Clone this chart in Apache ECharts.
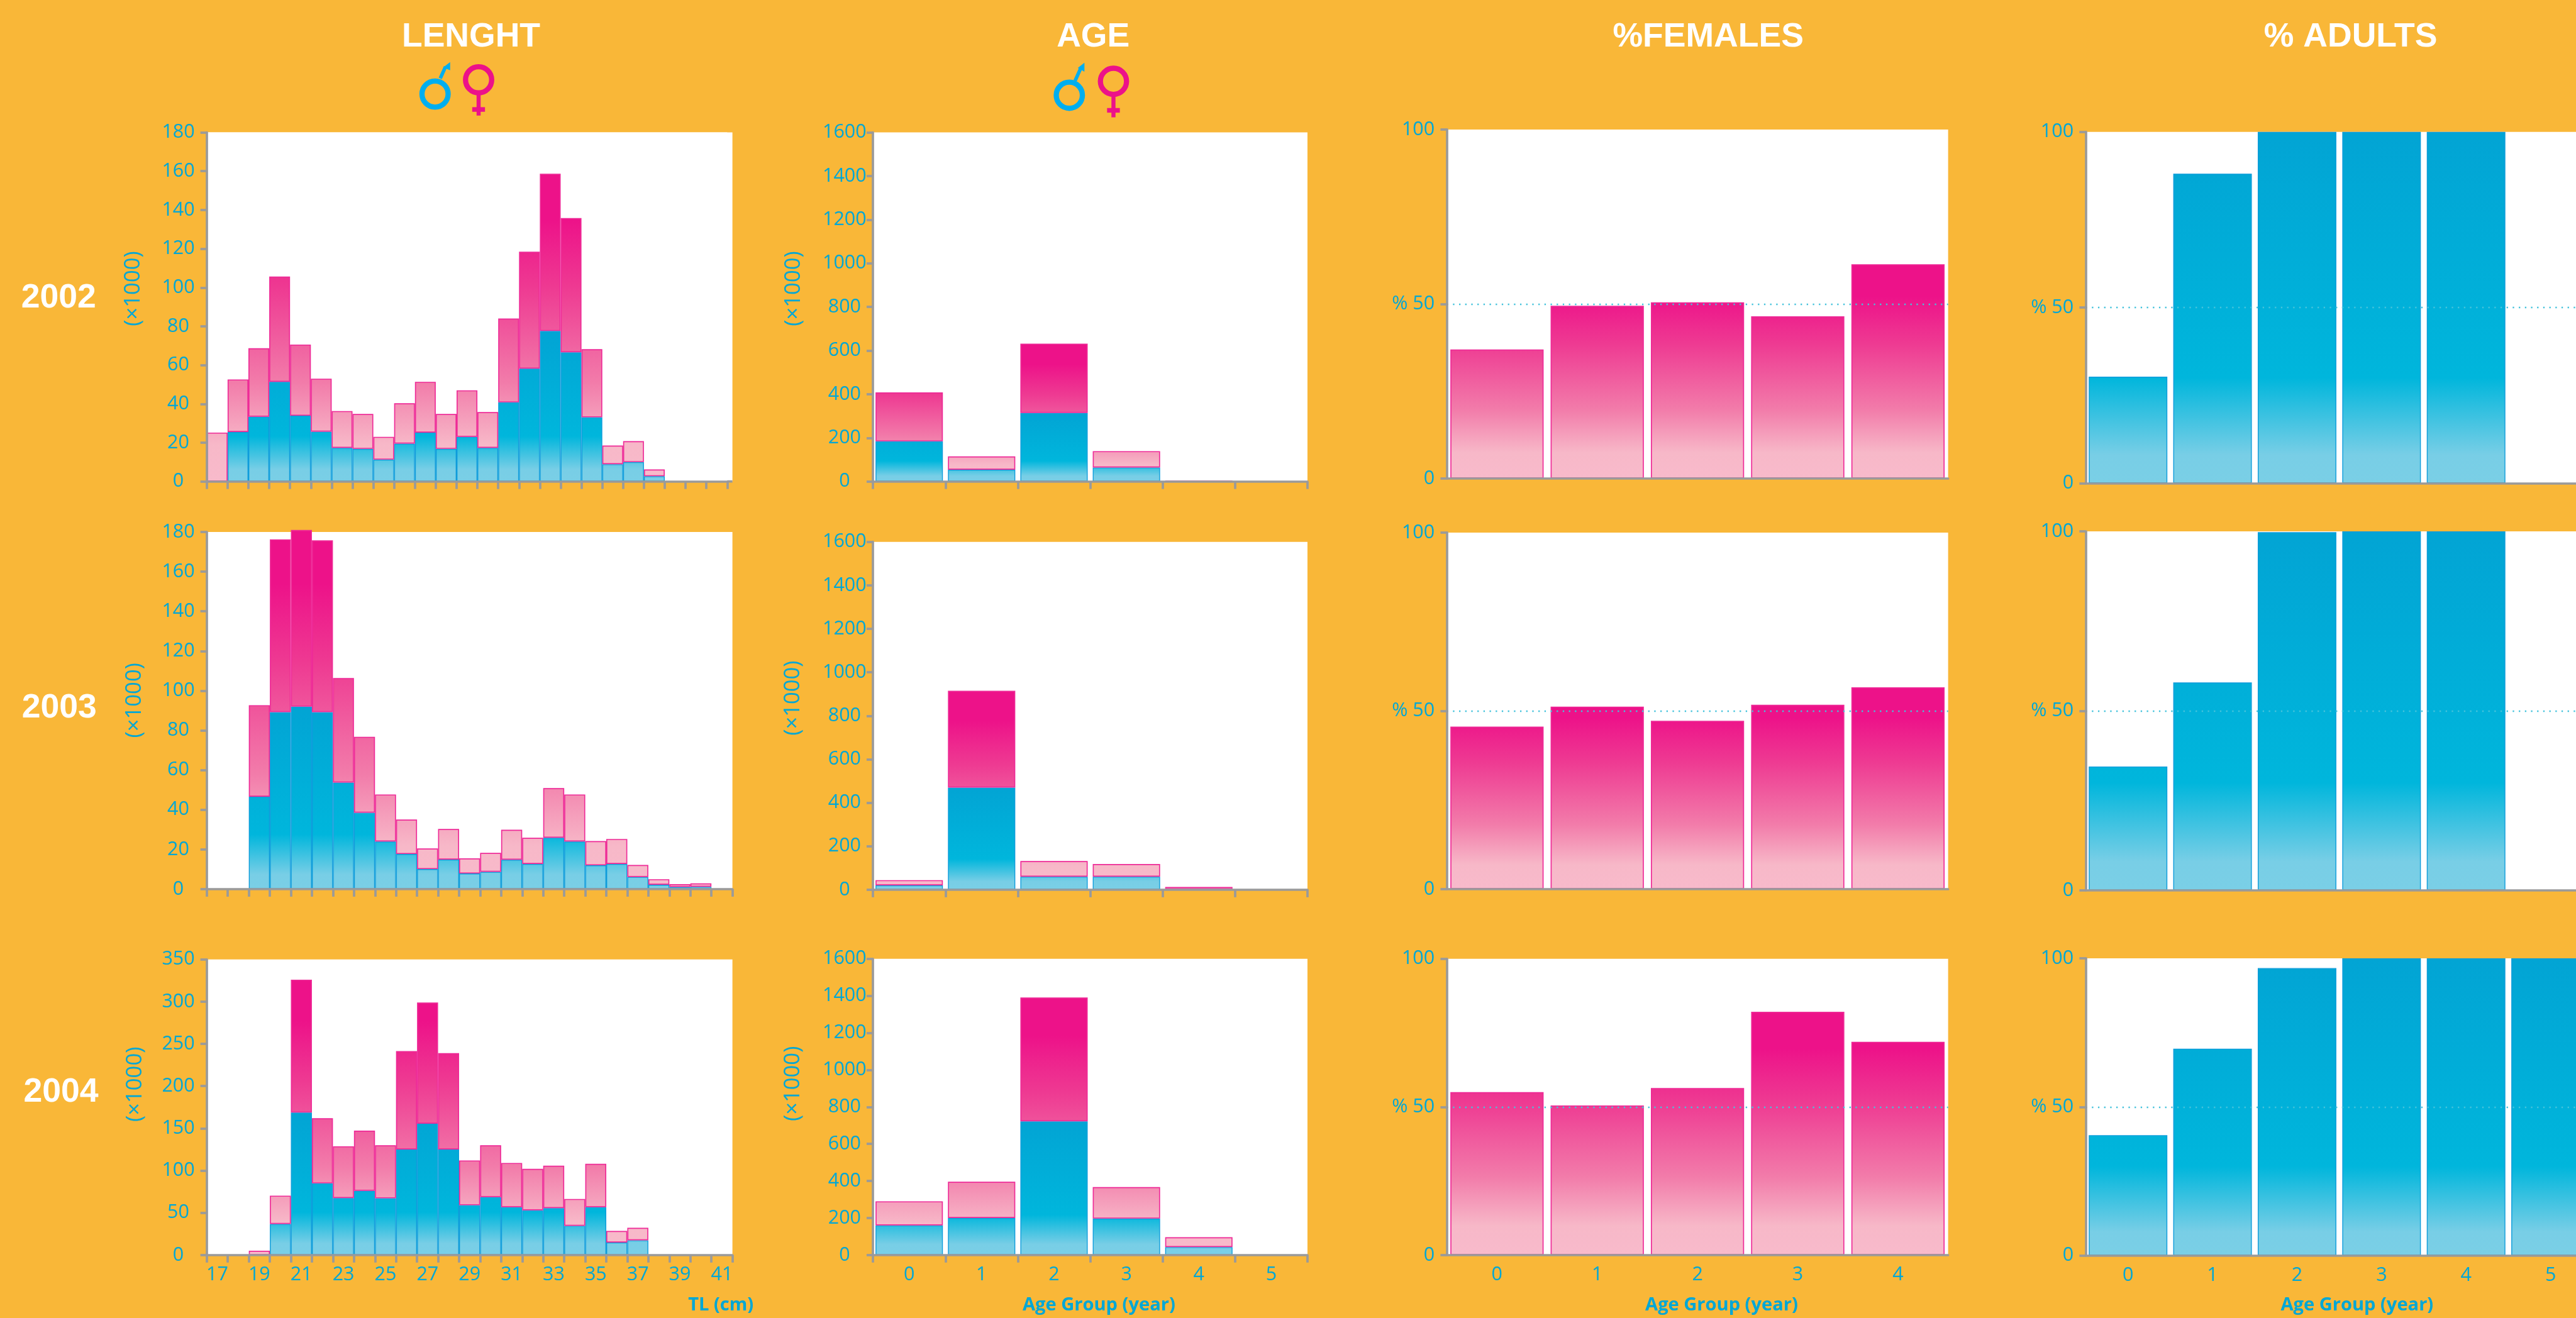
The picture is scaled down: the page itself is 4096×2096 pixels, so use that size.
<!DOCTYPE html>
<html>
<head>
<meta charset="utf-8">
<style>html,body{margin:0;padding:0;background:#F9B738;overflow:hidden}#c{width:4096px;height:2096px}</style>
<script src="https://cdn.jsdelivr.net/npm/echarts@6/dist/echarts.min.js"></script>
</head>
<body>
<div id="c"></div>
<script>
// ---------- data ----------
const lengthCats = ['17','18','19','20','21','22','23','24','25','26','27','28','29','30','31','32','33','34','35','36','37','38','39','40','41'];
const ageCats = ['0','1','2','3','4','5'];
const femaleCats = ['0','1','2','3','4'];

const len2002Male   = [0,25.5,33.4,51.4,33.9,25.7,17.3,16.8,11.3,19.5,25.2,16.8,23,17.3,40.8,58.2,77.6,66.6,33.1,8.9,10,2.7,0,0,0];
const len2002Female = [25.2,27.1,35.3,54.3,36.7,27.3,19,18,11.7,20.8,26.2,18,24,18.5,43.2,60.3,81.1,69.2,35.1,9.6,10.8,3.5,0,0,0];
const len2003Male   = [0,0,46.6,89.2,92,89.2,53.7,38.5,24,17.7,10.1,14.9,7.9,8.7,14.8,12.7,25.9,24,12,12.7,6.1,2.2,1.1,1.2,0];
const len2003Female = [0,0,46.1,87.1,89,86.6,52.7,38.3,23.7,17.4,10.4,15.4,7.6,9.6,15.1,13.2,25,23.7,12.2,12.6,6.1,2.8,1.4,1.7,0];
const len2004Male   = [0,0,0,36.7,168.6,84.9,67.5,76,67.2,125,155.5,125,59,68.6,56.7,53,55.5,34.5,56.7,14.8,17.4,0,0,0,0];
const len2004Female = [0,0,5.1,33.6,157.4,77.1,61.2,71.2,62.7,116.5,143.5,114,53,61.4,52.3,49,50.2,31.9,51.3,13.7,14.8,0,0,0,0];

const age2002Male   = [184,54,314,64,1,0];
const age2002Female = [224,61,318,75,1,0];
const age2003Male   = [20,470,60,60,3,0];
const age2003Female = [24,445,72,58,10,0];
const age2004Male   = [160,200,722,197,43,0];
const age2004Female = [130,196,669,170,53,0];

const females2002 = [37,49.5,50.5,46.5,61.4];
const females2003 = [45.6,51.2,47.2,51.7,56.6];
const females2004 = [55,50.5,56.4,82.1,72];

const adults2002 = [30.3,88.1,100,100,100,0];
const adults2003 = [34.5,57.9,99.8,100,100,0];
const adults2004 = [40.5,69.6,96.7,100,100,100];

const columnTitles = ['LENGHT','AGE','%FEMALES','% ADULTS'];
const yearLabels = ['2002','2003','2004'];
const unitLabel = '(×1000)';
const lengthAxisName = 'TL (cm)';
const ageAxisName = 'Age Group (year)';

// ---------- layout (in reference pixels, scaled to the window) ----------
const S = 4096 / 4435;
const s = v => v * S;
const BG = '#F9B738', INK = '#00A7D6', AXIS = '#9A9A9A';
const PINK_LINE = '#EE2A97', BLUE_LINE = '#0E9CDB';
const FONT = '"Open Sans"', TITLE_FONT = '"Liberation Sans"';
const PINK_STOPS = [[0,'#ED1289'],[0.15,'#ED1289'],[0.37,'#EE3A92'],[0.68,'#F27CAA'],[0.88,'#F7B8C8'],[1,'#F8BACB']];
const BLUE_STOPS = [[0,'#02A4D4'],[0.7,'#00B6DC'],[0.92,'#78CEE6'],[1,'#7ACFE6']];

const grids = [
  {k:'len', x:356,  w:896, top:228, bot:829,  lift:6, cats:lengthCats, max:180,  step:20,  m:len2002Male, f:len2002Female},
  {k:'len', x:356,  w:905, top:916, bot:1531, lift:4, cats:lengthCats, max:180,  step:20,  m:len2003Male, f:len2003Female},
  {k:'len', x:356,  w:905, top:1652,bot:2161, lift:2, cats:lengthCats, max:350,  step:50,  m:len2004Male, f:len2004Female, labels:true},
  {k:'age', x:1503, w:748, top:228, bot:829,  lift:4, cats:ageCats,    max:1600, step:200, m:age2002Male, f:age2002Female},
  {k:'age', x:1503, w:748, top:933, bot:1532, lift:4, cats:ageCats,    max:1600, step:200, m:age2003Male, f:age2003Female},
  {k:'age', x:1503, w:748, top:1651,bot:2161, lift:4, cats:ageCats,    max:1600, step:200, m:age2004Male, f:age2004Female, labels:true},
  {k:'pct', x:2491, w:863, top:223, bot:824,  lift:4, cats:femaleCats, max:100,  step:50,  f:females2002},
  {k:'pct', x:2491, w:863, top:917, bot:1531, lift:4, cats:femaleCats, max:100,  step:50,  f:females2003},
  {k:'pct', x:2491, w:863, top:1651,bot:2161, lift:4, cats:femaleCats, max:100,  step:50,  f:females2004, labels:true},
  {k:'pct', x:3591, w:873, top:227, bot:832,  lift:4, cats:ageCats,    max:100,  step:50,  m:adults2002},
  {k:'pct', x:3591, w:873, top:915, bot:1533, lift:4, cats:ageCats,    max:100,  step:50,  m:adults2003},
  {k:'pct', x:3591, w:873, top:1650,bot:2162, lift:4, cats:ageCats,    max:100,  step:50,  m:adults2004, labels:true}
];

function grad(g, maxVal, stops) {
  const y1 = s(g.bot), y0 = s(g.bot - (g.bot - g.top) * maxVal / g.max);
  return new echarts.graphic.LinearGradient(0, y0, 0, y1, stops.map(p => ({offset:p[0], color:p[1]})), true);
}
const drawn = arr => arr.map(v => v === 0 ? null : v);

const option = {animation:false, backgroundColor:BG, grid:[], xAxis:[], yAxis:[], series:[]};

grids.forEach((g, i) => {
  option.grid.push({left:s(g.x), top:s(g.top), width:s(g.w), height:s(g.bot - g.top), show:true, backgroundColor:'#fff', borderWidth:0, containLabel:false, outerBoundsMode:'none'});
  const pct = g.k === 'pct';
  option.xAxis.push({
    type:'category', gridIndex:i, data:g.cats, boundaryGap:true, z:5,
    axisLine:{show:true, onZero:false, lineStyle:{color:AXIS, width:s(4)}},
    axisTick:{show:!pct, length:s(13), interval:0, lineStyle:{color:AXIS, width:s(4)}},
    axisLabel:{show:!!g.labels, interval:g.k === 'len' ? 1 : 0, color:INK, fontFamily:FONT, fontSize:s(33), margin:s(18)},
    splitLine:{show:false}
  });
  option.yAxis.push({
    type:'value', gridIndex:i, min:0, max:g.max, interval:g.step, z:5,
    axisLine:{show:true, onZero:false, lineStyle:{color:AXIS, width:s(4)}},
    axisTick:{show:true, length:s(11), lineStyle:{color:AXIS, width:s(4)}},
    axisLabel:{color:INK, fontFamily:FONT, fontSize:s(33), margin:pct ? s(21) : s(49), align:pct ? 'right' : 'center',
      padding:[0, 0, s(g.lift * 2), 0],
      formatter:v => (pct && v === 50) ? '% 50' : String(v)},
    splitLine:{show:pct, showMinLine:false, showMaxLine:false, lineStyle:{color:'#45C3DC', width:s(2.5), type:[s(2.5), s(8)]}}
  });
  const barWidth = g.k === 'len' ? '100%' : '93%';
  const totals = g.cats.map((_, j) => (g.m ? g.m[j] : 0) + (g.f ? g.f[j] : 0));
  if (g.m) option.series.push({
    type:'bar', name:'Male', xAxisIndex:i, yAxisIndex:i, stack:'s' + i, barWidth, clip:false, data:drawn(g.m),
    itemStyle:{color:grad(g, Math.max(...g.m), BLUE_STOPS), borderColor:BLUE_LINE, borderWidth:s(1.5)}
  });
  if (g.f) option.series.push({
    type:'bar', name:'Female', xAxisIndex:i, yAxisIndex:i, stack:'s' + i, barWidth, clip:false, data:drawn(g.f),
    itemStyle:{color:grad(g, Math.max(...totals), PINK_STOPS), borderColor:PINK_LINE, borderWidth:s(1.8)}
  });
});

// the 2002 length panel's white ground runs a little past the end of its axis
option.grid.push({left:s(356), top:s(228), width:s(905), height:s(601), show:true, backgroundColor:'#fff', borderWidth:0, outerBoundsMode:'none', z:-1});

// ---------- texts and sex symbols ----------
const gfx = [];
function txt(text, x, y, font, fill, rot) {
  gfx.push({type:'text', x:s(x), y:s(y), rotation:rot || 0, z:10,
    style:{text, font, fill, textAlign:'center', textVerticalAlign:'middle'}});
}
const titleFont = 'bold ' + s(58) + 'px ' + TITLE_FONT;
[811, 1882, 2941, 4047].forEach((x, i) => txt(columnTitles[i], x, 64, titleFont, '#fff'));
[[101,513],[102,1219],[105,1881]].forEach((p, i) => txt(yearLabels[i], p[0], p[1], titleFont, '#fff'));
const unitFont = s(37.5) + 'px ' + FONT;
[[230,497],[232,1206],[233,1867],[1367,497],[1366,1202],[1366,1866]].forEach(p => txt(unitLabel, p[0], p[1], unitFont, INK, Math.PI / 2));
const nameFont = 'bold ' + s(31.5) + 'px ' + FONT;
txt(lengthAxisName, 1241, 2248, nameFont, INK);
[1892, 2964, 4058].forEach(x => txt(ageAxisName, x, 2248, nameFont, INK));

const MALE = '#00AEEF', FEMALE = '#EC1289';
function ring(cx, cy, color) {
  gfx.push({type:'circle', z:10, shape:{cx:s(cx), cy:s(cy), r:s(22.5)}, style:{fill:'none', stroke:color, lineWidth:s(9)}});
}
function seg(x1, y1, x2, y2, color, w) {
  gfx.push({type:'line', z:10, shape:{x1:s(x1), y1:s(y1), x2:s(x2), y2:s(y2)}, style:{stroke:color, lineWidth:s(w)}});
}
function maleSign(cx, cy, a, b, tip, c, d) {
  ring(cx, cy, MALE);
  seg(a[0], a[1], b[0], b[1], MALE, 6);
  gfx.push({type:'polygon', z:10, shape:{points:[tip, c, d].map(p => [s(p[0]), s(p[1])])}, style:{fill:MALE}});
}
function femaleSign(cx, cy, end, bar) {
  ring(cx, cy, FEMALE);
  seg(cx, cy + 26, cx, end, FEMALE, 7);
  seg(cx - 11, bar, cx + 11, bar, FEMALE, 8);
}
maleSign(749, 162, [758,135], [767,115], [775,107], [763,116], [775,121]);
femaleSign(824, 137.5, 199, 188.5);
maleSign(1841, 164, [1851,139], [1860,119], [1867,108], [1855.6,117], [1867,123.5]);
femaleSign(1917, 140, 202, 190);
seg(1252, 829, 1261, 829, AXIS, 4);
option.graphic = {elements:gfx};

const chart = echarts.init(document.getElementById('c'), null, {width:4096, height:2096, renderer:'canvas'});
chart.setOption(option);
</script>
</body>
</html>
